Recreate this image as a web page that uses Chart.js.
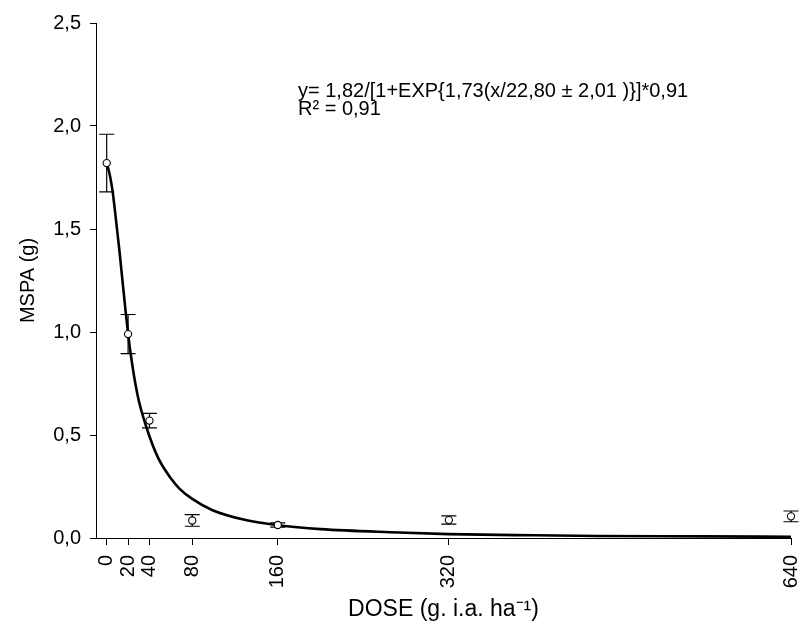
<!DOCTYPE html>
<html>
<head>
<meta charset="utf-8">
<script src="https://cdn.jsdelivr.net/npm/chart.js@4.4.1/dist/chart.umd.min.js"></script>
<style>
  html, body { margin: 0; padding: 0; background: #fff; }
  #wrap { width: 801px; height: 637px; }
</style>
</head>
<body>
<div id="wrap"><canvas id="c" width="801" height="637"></canvas></div>
<script>
// ---- data ----
const doses = [0, 20, 40, 80, 160, 320, 640];
const mspaMeans = [1.82, 0.99, 0.57, 0.085, 0.063, 0.087, 0.105];
const mspaErrors = [0.14, 0.095, 0.035, 0.028, 0.010, 0.020, 0.026];

// fitted curve, points
const curveX = [0, 3, 5.6, 9, 12, 17.5, 22, 29, 37, 48, 60, 68, 80, 99, 130, 160, 200, 273, 320, 400, 460, 560, 640];
const curveY = [1.82, 1.76, 1.68, 1.53, 1.39, 1.11, 0.91, 0.69, 0.54, 0.39, 0.29, 0.24, 0.19, 0.135, 0.087, 0.062, 0.043, 0.027, 0.019, 0.013, 0.010, 0.008, 0.006];

const xTickValues = [0, 20, 40, 80, 160, 320, 640];
const yTickValues = [0, 0.5, 1.0, 1.5, 2.0, 2.5];

const equationLine1 = 'y= 1,82/[1+EXP{1,73(x/22,80 \u00B1 2,01 )}]*0,91';
const equationLine2 = 'R\u00B2 = 0,91';
const xTitle = 'DOSE (g. i.a. ha\u207B\u00B9)';
const yTitle = 'MSPA (g)';

const FONT = '"Liberation Sans", Arial, sans-serif';

const pointData = doses.map((d, i) => ({ x: d, y: mspaMeans[i] }));
const curveData = curveX.map((d, i) => ({ x: d, y: curveY[i] }));

const errorBars = {
  id: 'errorBars',
  beforeDatasetDraw(chart, args) {
    if (args.index !== 0) return;
    const { ctx, scales: { x, y } } = chart;
    ctx.save();
    ctx.strokeStyle = '#000';
    ctx.lineWidth = 1.2;
    const cap = 7.5;
    doses.forEach((d, i) => {
      const px = x.getPixelForValue(d);
      const top = y.getPixelForValue(mspaMeans[i] + mspaErrors[i]);
      const bot = y.getPixelForValue(mspaMeans[i] - mspaErrors[i]);
      ctx.beginPath();
      ctx.moveTo(px, top); ctx.lineTo(px, bot);
      ctx.moveTo(px - cap, top); ctx.lineTo(px + cap, top);
      ctx.moveTo(px - cap, bot); ctx.lineTo(px + cap, bot);
      ctx.stroke();
    });
    ctx.restore();
  }
};

const equation = {
  id: 'equation',
  afterDraw(chart) {
    const ctx = chart.ctx;
    ctx.save();
    ctx.fillStyle = '#000';
    ctx.font = '20px ' + FONT;
    ctx.textBaseline = 'alphabetic';
    ctx.textAlign = 'left';
    ctx.fillText(equationLine1, 298, 97);
    ctx.fillText(equationLine2, 298, 115);
    ctx.restore();
  }
};

new Chart(document.getElementById('c'), {
  type: 'scatter',
  data: {
    datasets: [
      {
        label: 'MSPA',
        data: pointData,
        clip: false,
        pointRadius: 3.6,
        pointHoverRadius: 3.6,
        pointBackgroundColor: '#fff',
        pointBorderColor: '#000',
        pointBorderWidth: 1.1,
        showLine: false
      },
      {
        label: 'fit',
        data: curveData,
        showLine: true,
        borderColor: '#000',
        borderWidth: 2.6,
        pointRadius: 0,
        cubicInterpolationMode: 'monotone',
        fill: false
      }
    ]
  },
  options: {
    responsive: false,
    animation: false,
    devicePixelRatio: 1,
    layout: { padding: { top: 23, right: 10, left: 0, bottom: 0 } },
    plugins: { legend: { display: false }, tooltip: { enabled: false } },
    scales: {
      x: {
        type: 'linear',
        min: -10,
        max: 640,
        afterBuildTicks(scale) { scale.ticks = xTickValues.map(v => ({ value: v })); },
        afterFit(scale) {
          scale.height = 99;
          scale.paddingLeft = 0; scale.paddingRight = 0;
        },
        grid: { display: true, drawOnChartArea: false, drawTicks: true, tickLength: 7, color: '#000', tickWidth: 1 },
        border: { display: true, color: '#000', width: 1 },
        ticks: {
          color: '#000',
          font: { family: FONT, size: 20 },
          minRotation: 90,
          maxRotation: 90,
          padding: 10,
          autoSkip: false,
          callback: v => String(v)
        },
        title: { display: true, text: xTitle, color: '#000', font: { family: FONT, size: 23 }, padding: { top: 0, bottom: 14 } }
      },
      y: {
        type: 'linear',
        min: 0,
        max: 2.5,
        afterBuildTicks(scale) { scale.ticks = yTickValues.map(v => ({ value: v })); },
        afterFit(scale) {
          scale.width = 96;
          scale.paddingTop = 0; scale.paddingBottom = 0;
        },
        grid: { display: true, drawOnChartArea: false, drawTicks: true, tickLength: 6, color: '#000', tickWidth: 1 },
        border: { display: true, color: '#000', width: 1 },
        ticks: {
          color: '#000',
          font: { family: FONT, size: 20 },
          padding: 9,
          callback: v => v.toFixed(1).replace('.', ',')
        },
        title: { display: true, text: yTitle, color: '#000', font: { family: FONT, size: 20 }, padding: { top: 16, bottom: 0 } }
      }
    }
  },
  plugins: [errorBars, equation]
});
</script>
</body>
</html>
